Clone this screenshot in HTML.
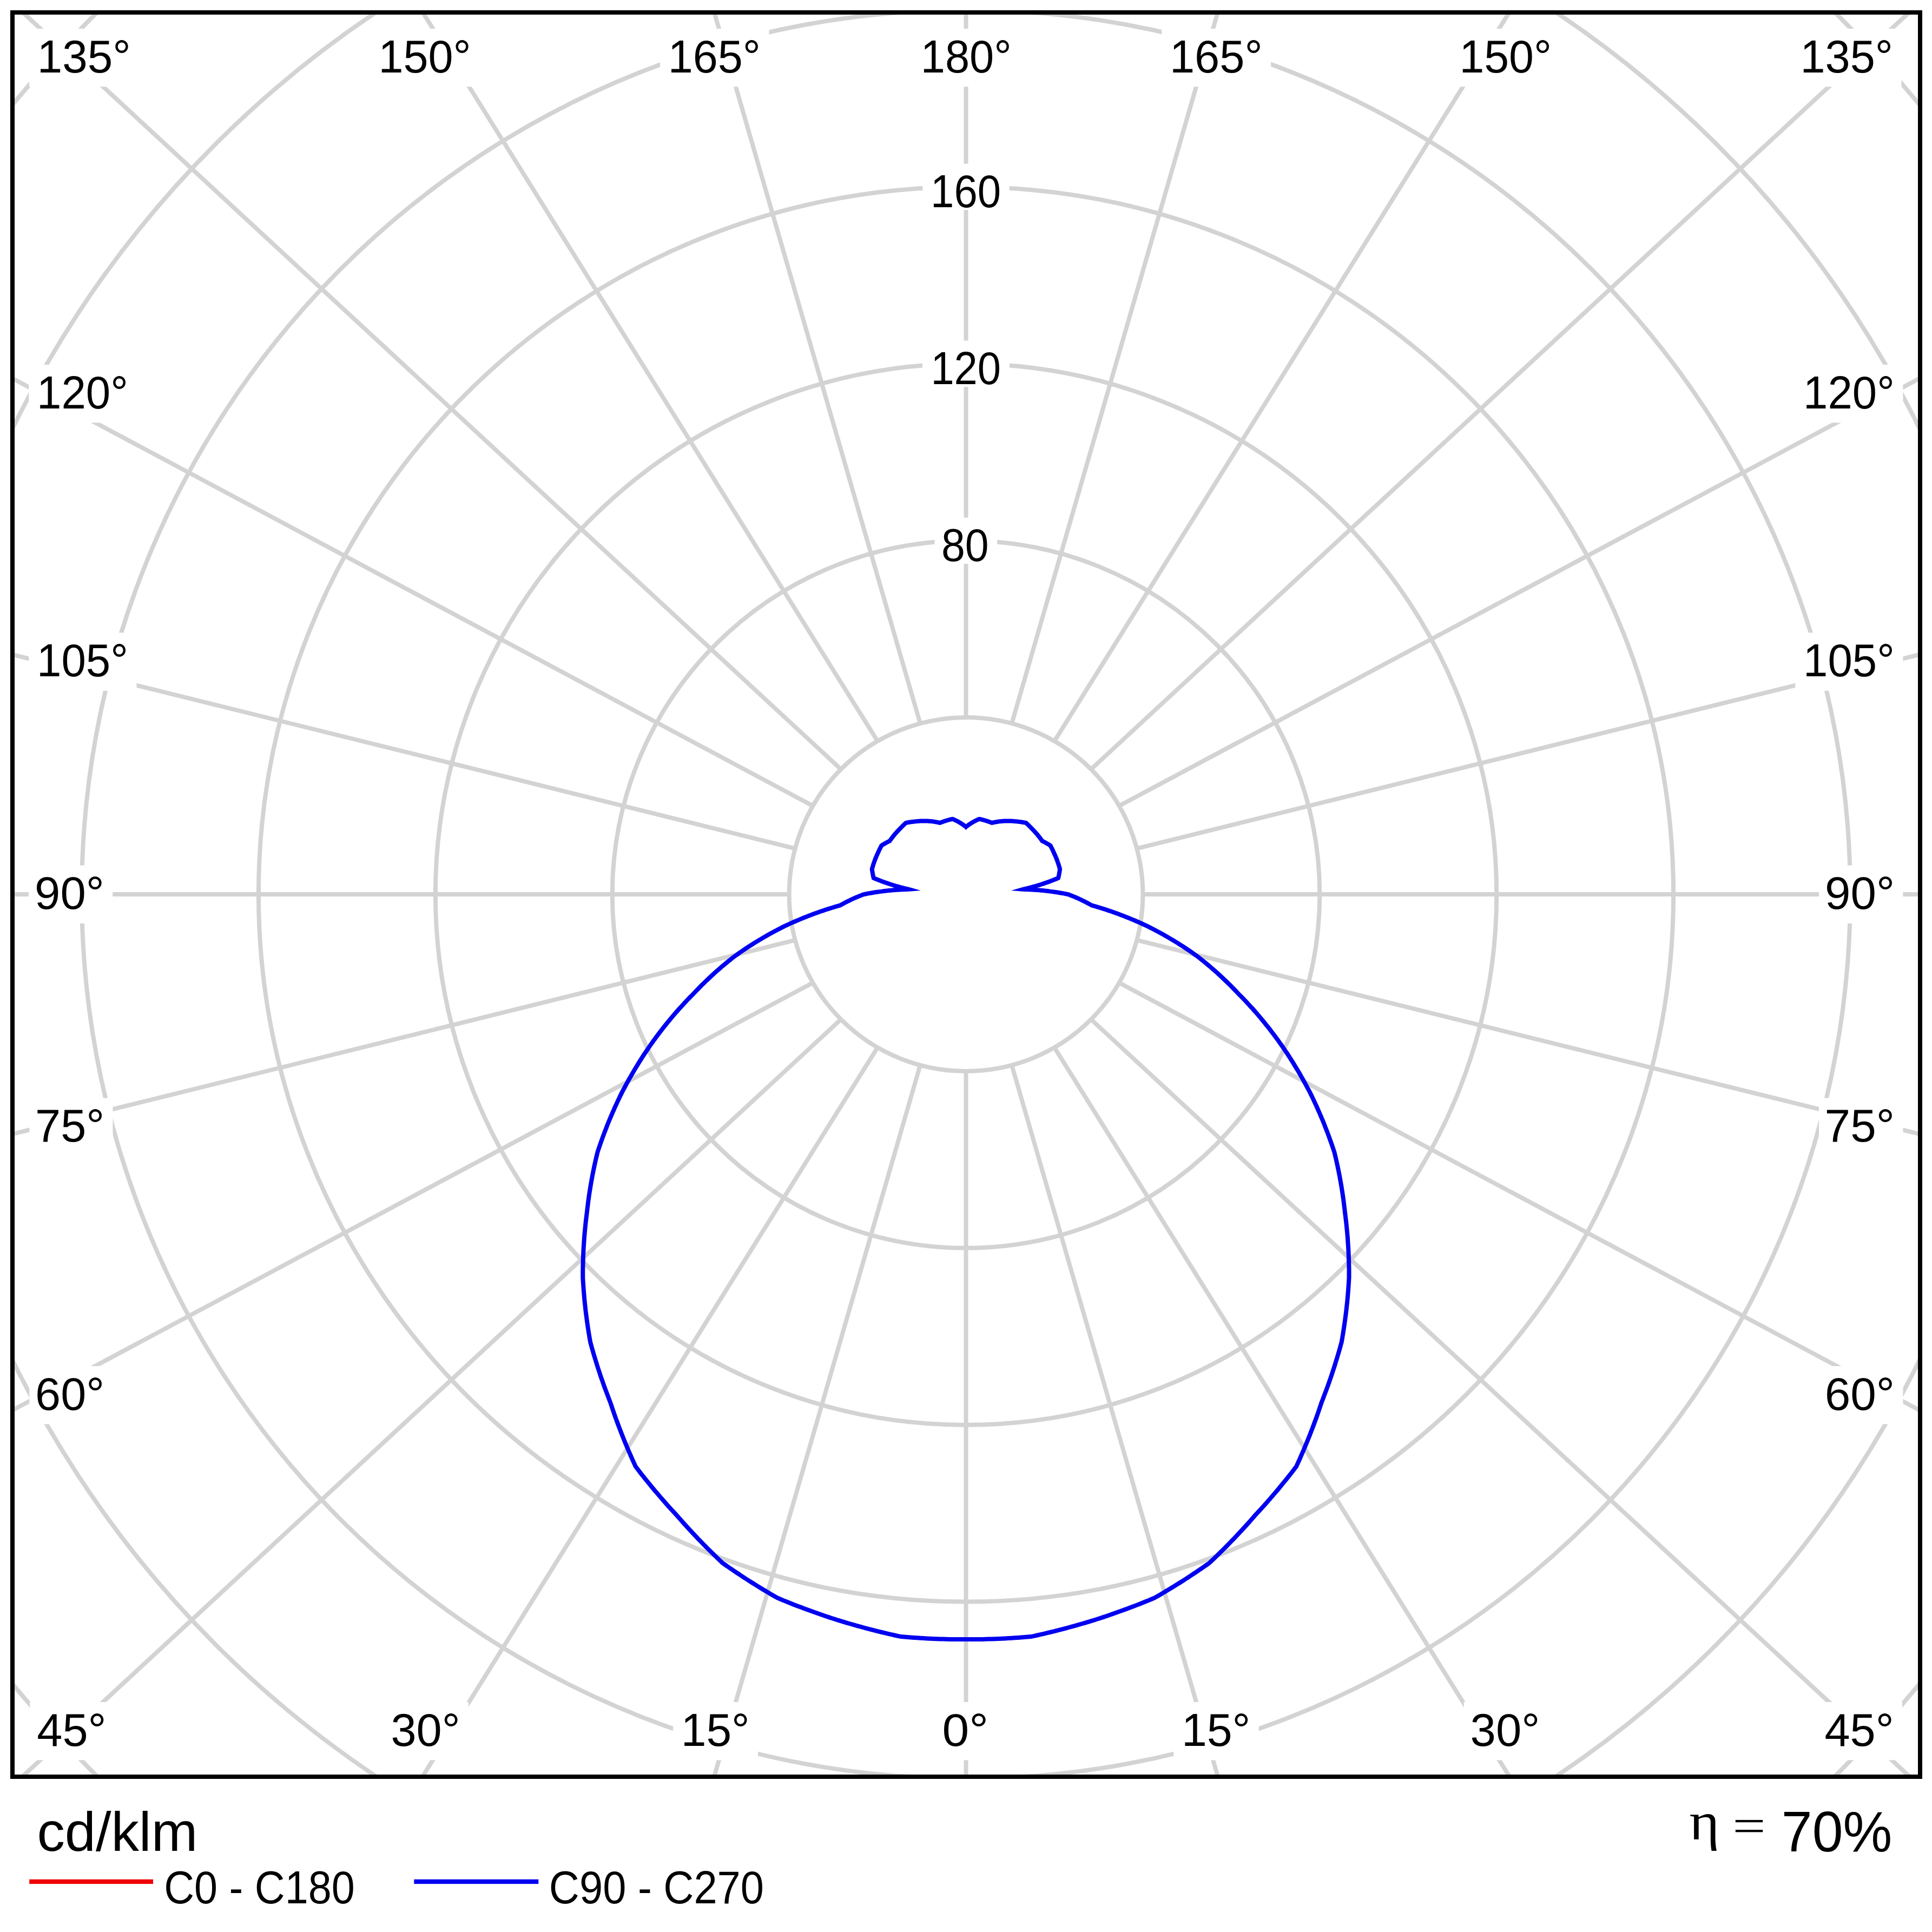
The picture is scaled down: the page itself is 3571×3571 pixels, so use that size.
<!DOCTYPE html><html><head><meta charset="utf-8"><style>html,body{margin:0;padding:0;background:#fff;overflow:hidden}</style></head><body><svg width="3571" height="3571" viewBox="0 0 3571 3571" style="display:block">
<rect x="0" y="0" width="3571" height="3571" fill="#fff"/>
<defs><clipPath id="fr"><rect x="27" y="27" width="3518" height="3254"/></clipPath></defs>
<g clip-path="url(#fr)">
<line x1="1785.50" y1="1979.90" x2="1785.50" y2="5979.90" stroke="#d3d3d3" stroke-width="8"/>
<line x1="1870.11" y1="1968.76" x2="2989.24" y2="5832.46" stroke="#d3d3d3" stroke-width="8"/>
<line x1="1948.95" y1="1936.10" x2="4110.95" y2="5400.21" stroke="#d3d3d3" stroke-width="8"/>
<line x1="2016.65" y1="1884.15" x2="5074.18" y2="4712.58" stroke="#d3d3d3" stroke-width="8"/>
<line x1="2068.60" y1="1816.45" x2="5813.30" y2="3816.45" stroke="#d3d3d3" stroke-width="8"/>
<line x1="2101.26" y1="1737.61" x2="6277.92" y2="2772.88" stroke="#d3d3d3" stroke-width="8"/>
<line x1="2112.40" y1="1653.00" x2="6436.40" y2="1653.00" stroke="#d3d3d3" stroke-width="8"/>
<line x1="2101.26" y1="1568.39" x2="6277.92" y2="533.12" stroke="#d3d3d3" stroke-width="8"/>
<line x1="2068.60" y1="1489.55" x2="5813.30" y2="-510.45" stroke="#d3d3d3" stroke-width="8"/>
<line x1="2016.65" y1="1421.85" x2="5074.18" y2="-1406.58" stroke="#d3d3d3" stroke-width="8"/>
<line x1="1948.95" y1="1369.90" x2="4110.95" y2="-2094.21" stroke="#d3d3d3" stroke-width="8"/>
<line x1="1870.11" y1="1337.24" x2="2989.24" y2="-2526.46" stroke="#d3d3d3" stroke-width="8"/>
<line x1="1785.50" y1="1326.10" x2="1785.50" y2="-2673.90" stroke="#d3d3d3" stroke-width="8"/>
<line x1="1700.89" y1="1337.24" x2="581.76" y2="-2526.46" stroke="#d3d3d3" stroke-width="8"/>
<line x1="1622.05" y1="1369.90" x2="-539.95" y2="-2094.21" stroke="#d3d3d3" stroke-width="8"/>
<line x1="1554.35" y1="1421.85" x2="-1503.18" y2="-1406.58" stroke="#d3d3d3" stroke-width="8"/>
<line x1="1502.40" y1="1489.55" x2="-2242.30" y2="-510.45" stroke="#d3d3d3" stroke-width="8"/>
<line x1="1469.74" y1="1568.39" x2="-2706.92" y2="533.12" stroke="#d3d3d3" stroke-width="8"/>
<line x1="1458.60" y1="1653.00" x2="-2865.40" y2="1653.00" stroke="#d3d3d3" stroke-width="8"/>
<line x1="1469.74" y1="1737.61" x2="-2706.92" y2="2772.88" stroke="#d3d3d3" stroke-width="8"/>
<line x1="1502.40" y1="1816.45" x2="-2242.30" y2="3816.45" stroke="#d3d3d3" stroke-width="8"/>
<line x1="1554.35" y1="1884.15" x2="-1503.18" y2="4712.58" stroke="#d3d3d3" stroke-width="8"/>
<line x1="1622.05" y1="1936.10" x2="-539.95" y2="5400.21" stroke="#d3d3d3" stroke-width="8"/>
<line x1="1700.89" y1="1968.76" x2="581.76" y2="5832.46" stroke="#d3d3d3" stroke-width="8"/>
<circle cx="1785.5" cy="1653.0" r="326.90" fill="#fff" stroke="#d3d3d3" stroke-width="8"/>
<circle cx="1785.5" cy="1653.0" r="653.80" fill="none" stroke="#d3d3d3" stroke-width="8"/>
<circle cx="1785.5" cy="1653.0" r="980.70" fill="none" stroke="#d3d3d3" stroke-width="8"/>
<circle cx="1785.5" cy="1653.0" r="1307.60" fill="none" stroke="#d3d3d3" stroke-width="8"/>
<circle cx="1785.5" cy="1653.0" r="1634.50" fill="none" stroke="#d3d3d3" stroke-width="8"/>
<circle cx="1785.5" cy="1653.0" r="1961.40" fill="none" stroke="#d3d3d3" stroke-width="8"/>
<circle cx="1785.5" cy="1653.0" r="2288.30" fill="none" stroke="#d3d3d3" stroke-width="8"/>
<circle cx="1785.5" cy="1653.0" r="2615.20" fill="none" stroke="#d3d3d3" stroke-width="8"/>
<polygon fill="none" stroke="#0000f0" stroke-width="8" stroke-linejoin="miter" stroke-miterlimit="4" points="1785.4,3030.1 1779.4,3030.1 1773.4,3030.1 1767.4,3030.1 1761.4,3030.0 1755.4,3029.9 1749.3,3029.7 1743.3,3029.6 1737.3,3029.4 1731.3,3029.2 1725.3,3028.9 1719.3,3028.7 1713.3,3028.4 1707.3,3028.0 1701.3,3027.7 1695.3,3027.3 1689.3,3026.9 1683.3,3026.5 1677.3,3026.0 1671.3,3025.6 1665.4,3025.1 1659.4,3023.8 1653.5,3022.5 1647.6,3021.1 1641.7,3019.8 1635.9,3018.4 1630.0,3017.0 1624.1,3015.6 1618.3,3014.1 1612.4,3012.6 1606.6,3011.1 1600.8,3009.6 1595.0,3008.0 1589.2,3006.4 1583.4,3004.8 1577.6,3003.2 1571.8,3001.5 1566.1,2999.9 1560.3,2998.1 1554.6,2996.4 1548.8,2994.7 1543.1,2992.8 1537.4,2991.0 1531.7,2989.1 1526.1,2987.2 1520.4,2985.3 1514.7,2983.3 1509.1,2981.3 1503.5,2979.3 1497.9,2977.3 1492.3,2975.3 1486.7,2973.2 1481.1,2971.1 1475.5,2969.0 1470.0,2966.9 1464.4,2964.7 1458.9,2962.5 1453.4,2960.3 1447.9,2958.1 1442.4,2955.8 1436.9,2953.5 1431.7,2950.5 1426.4,2947.5 1421.2,2944.4 1416.0,2941.3 1410.8,2938.2 1405.6,2935.0 1400.5,2931.9 1395.4,2928.7 1390.3,2925.5 1385.2,2922.3 1380.1,2919.0 1375.1,2915.8 1370.1,2912.5 1365.1,2909.2 1360.1,2905.9 1355.2,2902.5 1350.2,2899.2 1345.3,2895.8 1340.4,2892.4 1335.5,2889.0 1331.0,2884.7 1326.5,2880.4 1322.0,2876.0 1317.6,2871.7 1313.2,2867.4 1308.8,2863.0 1304.4,2858.6 1300.1,2854.2 1295.8,2849.8 1291.5,2845.4 1287.3,2840.9 1283.1,2836.5 1278.9,2832.0 1274.7,2827.5 1270.6,2823.0 1266.5,2818.5 1262.4,2814.0 1258.4,2809.4 1254.4,2804.9 1250.4,2800.3 1246.4,2795.9 1242.3,2791.6 1238.3,2787.2 1234.4,2782.8 1230.4,2778.3 1226.5,2773.9 1222.7,2769.5 1218.8,2765.0 1215.0,2760.5 1211.2,2756.1 1207.4,2751.6 1203.7,2747.1 1200.0,2742.5 1196.3,2738.0 1192.6,2733.5 1189.0,2728.9 1185.4,2724.4 1181.8,2719.8 1178.3,2715.2 1174.8,2710.6 1172.1,2704.7 1169.4,2698.8 1166.8,2692.8 1164.2,2686.9 1161.6,2681.0 1159.1,2675.0 1156.6,2669.1 1154.2,2663.2 1151.8,2657.2 1149.4,2651.3 1147.1,2645.3 1144.8,2639.4 1142.6,2633.5 1140.4,2627.5 1138.2,2621.6 1136.1,2615.6 1134.0,2609.7 1132.0,2603.7 1130.0,2597.8 1128.0,2591.8 1125.8,2586.3 1123.7,2580.7 1121.6,2575.1 1119.5,2569.6 1117.4,2564.0 1115.4,2558.4 1113.5,2552.8 1111.5,2547.3 1109.6,2541.7 1107.8,2536.1 1105.9,2530.5 1104.1,2525.0 1102.4,2519.4 1100.7,2513.8 1099.0,2508.3 1097.3,2502.7 1095.7,2497.1 1094.1,2491.6 1092.6,2486.0 1091.1,2480.5 1090.0,2474.4 1089.0,2468.4 1088.0,2462.3 1087.1,2456.3 1086.2,2450.3 1085.3,2444.3 1084.5,2438.3 1083.7,2432.3 1082.9,2426.3 1082.2,2420.4 1081.6,2414.4 1080.9,2408.4 1080.3,2402.5 1079.8,2396.6 1079.3,2390.6 1078.8,2384.7 1078.4,2378.8 1078.0,2372.9 1077.6,2367.0 1077.3,2361.1 1077.3,2355.0 1077.3,2348.8 1077.4,2342.7 1077.5,2336.6 1077.7,2330.5 1077.9,2324.4 1078.1,2318.3 1078.4,2312.3 1078.7,2306.2 1079.1,2300.2 1079.5,2294.2 1079.9,2288.2 1080.4,2282.2 1080.9,2276.3 1081.5,2270.3 1082.1,2264.4 1082.7,2258.5 1083.4,2252.6 1084.1,2246.7 1084.9,2240.8 1085.5,2235.1 1086.2,2229.4 1086.9,2223.7 1087.6,2218.0 1088.4,2212.4 1089.2,2206.8 1090.1,2201.1 1091.0,2195.5 1091.9,2190.0 1092.9,2184.4 1093.9,2178.8 1094.9,2173.3 1096.0,2167.8 1097.1,2162.3 1098.2,2156.9 1099.4,2151.4 1100.6,2146.0 1101.8,2140.6 1103.1,2135.2 1104.4,2129.8 1106.3,2124.1 1108.2,2118.4 1110.2,2112.7 1112.2,2107.1 1114.2,2101.5 1116.3,2095.9 1118.4,2090.3 1120.6,2084.8 1122.7,2079.2 1124.9,2073.8 1127.2,2068.3 1129.5,2062.9 1131.8,2057.5 1134.2,2052.1 1136.5,2046.7 1139.0,2041.4 1141.4,2036.1 1143.9,2030.9 1146.4,2025.6 1149.0,2020.4 1151.7,2015.2 1154.5,2010.0 1157.2,2004.8 1160.1,1999.6 1162.9,1994.5 1165.8,1989.4 1168.7,1984.4 1171.7,1979.3 1174.7,1974.3 1177.7,1969.4 1180.7,1964.4 1183.8,1959.5 1186.9,1954.7 1190.0,1949.8 1193.2,1945.0 1196.4,1940.3 1199.6,1935.5 1202.9,1930.8 1206.2,1926.2 1209.5,1921.5 1212.9,1916.9 1216.3,1912.3 1219.8,1907.8 1223.2,1903.3 1226.7,1898.8 1230.3,1894.4 1233.8,1890.0 1237.4,1885.6 1241.0,1881.3 1244.6,1877.0 1248.3,1872.7 1252.0,1868.5 1255.7,1864.3 1259.5,1860.2 1263.2,1856.1 1267.0,1852.0 1270.8,1847.9 1274.7,1843.9 1278.6,1840.0 1282.5,1836.1 1286.0,1832.3 1289.6,1828.6 1293.2,1824.9 1296.8,1821.2 1300.5,1817.6 1304.2,1814.0 1307.9,1810.5 1311.6,1807.0 1315.3,1803.5 1319.1,1800.0 1322.9,1796.6 1326.7,1793.3 1330.5,1789.9 1334.3,1786.6 1338.2,1783.4 1342.1,1780.1 1346.0,1776.9 1349.9,1773.8 1353.8,1770.7 1357.8,1767.6 1362.2,1764.4 1366.6,1761.3 1371.1,1758.2 1375.6,1755.2 1380.1,1752.2 1384.6,1749.2 1389.1,1746.3 1393.6,1743.4 1398.2,1740.6 1402.8,1737.8 1407.4,1735.1 1412.0,1732.4 1416.6,1729.7 1421.3,1727.1 1425.9,1724.5 1430.6,1722.0 1435.3,1719.5 1440.0,1717.0 1444.7,1714.6 1449.5,1712.2 1454.5,1709.9 1459.6,1707.5 1464.7,1705.2 1469.8,1703.0 1474.9,1700.8 1480.1,1698.6 1485.2,1696.5 1490.4,1694.5 1495.5,1692.4 1500.7,1690.5 1505.9,1688.6 1511.1,1686.7 1516.3,1684.8 1521.6,1683.1 1526.8,1681.3 1532.0,1679.6 1537.3,1678.0 1542.6,1676.4 1547.8,1674.8 1553.1,1673.3 1555.3,1672.1 1557.4,1670.9 1559.5,1669.8 1561.7,1668.6 1563.8,1667.5 1566.0,1666.4 1568.1,1665.3 1570.3,1664.3 1572.5,1663.2 1574.7,1662.2 1576.9,1661.2 1579.0,1660.2 1581.2,1659.2 1583.4,1658.3 1585.6,1657.4 1587.8,1656.4 1590.0,1655.6 1592.3,1654.7 1594.5,1653.8 1596.7,1653.0 1600.8,1652.2 1604.9,1651.4 1609.1,1650.7 1613.2,1650.0 1617.4,1649.3 1621.5,1648.7 1625.6,1648.1 1629.8,1647.6 1633.9,1647.0 1638.1,1646.6 1642.2,1646.1 1646.4,1645.7 1650.5,1645.3 1654.7,1645.0 1658.8,1644.7 1663.0,1644.4 1667.1,1644.2 1671.3,1644.0 1675.4,1643.9 1679.6,1643.7 1676.3,1643.0 1673.0,1642.2 1669.7,1641.3 1666.4,1640.5 1663.1,1639.6 1659.9,1638.7 1656.6,1637.8 1653.3,1636.8 1650.1,1635.8 1646.8,1634.8 1643.6,1633.7 1640.4,1632.6 1637.1,1631.5 1633.9,1630.4 1630.7,1629.2 1627.5,1628.0 1624.3,1626.8 1621.1,1625.5 1617.9,1624.2 1614.8,1622.9 1614.6,1622.1 1614.4,1621.3 1614.2,1620.5 1614.0,1619.7 1613.9,1618.9 1613.7,1618.1 1613.5,1617.3 1613.4,1616.4 1613.2,1615.6 1613.1,1614.8 1612.9,1614.0 1612.8,1613.1 1612.6,1612.3 1612.5,1611.5 1612.3,1610.7 1612.2,1609.8 1612.1,1609.0 1612.0,1608.1 1611.8,1607.3 1611.7,1606.5 1611.9,1605.7 1612.1,1605.0 1612.4,1604.2 1612.6,1603.4 1612.8,1602.7 1613.0,1601.9 1613.2,1601.2 1613.5,1600.4 1613.7,1599.7 1613.9,1598.9 1614.2,1598.2 1614.4,1597.4 1614.6,1596.7 1614.9,1596.0 1615.1,1595.2 1615.4,1594.5 1615.7,1593.7 1615.9,1593.0 1616.2,1592.2 1616.4,1591.5 1616.7,1590.8 1617.0,1590.0 1617.3,1589.3 1617.5,1588.6 1617.8,1587.8 1618.1,1587.1 1618.4,1586.4 1618.7,1585.6 1619.0,1584.9 1619.3,1584.2 1619.6,1583.5 1619.9,1582.7 1620.2,1582.0 1620.5,1581.3 1620.8,1580.6 1621.1,1579.9 1621.5,1579.2 1621.8,1578.4 1622.1,1577.7 1622.5,1577.0 1622.8,1576.3 1623.1,1575.6 1623.4,1574.9 1623.7,1574.1 1624.1,1573.4 1624.4,1572.7 1624.7,1572.0 1625.1,1571.3 1625.4,1570.6 1625.7,1569.9 1626.1,1569.2 1626.4,1568.5 1626.8,1567.8 1627.1,1567.1 1627.5,1566.4 1627.9,1565.7 1628.2,1565.0 1628.6,1564.3 1629.0,1563.6 1629.3,1562.9 1630.1,1562.4 1630.8,1562.0 1631.6,1561.5 1632.3,1561.0 1633.1,1560.6 1633.8,1560.1 1634.6,1559.7 1635.4,1559.2 1636.1,1558.8 1636.9,1558.4 1637.6,1557.9 1638.4,1557.5 1639.1,1557.1 1639.9,1556.7 1640.7,1556.3 1641.4,1555.9 1642.2,1555.5 1643.0,1555.1 1643.7,1554.7 1644.5,1554.3 1644.9,1553.7 1645.3,1553.1 1645.8,1552.5 1646.2,1551.9 1646.7,1551.3 1647.1,1550.7 1647.6,1550.1 1648.0,1549.5 1648.5,1548.9 1648.9,1548.3 1649.4,1547.7 1649.8,1547.1 1650.3,1546.5 1650.8,1545.9 1651.2,1545.3 1651.7,1544.7 1652.2,1544.2 1652.7,1543.6 1653.1,1543.0 1653.6,1542.4 1654.1,1541.8 1654.6,1541.3 1655.1,1540.7 1655.6,1540.1 1656.1,1539.6 1656.6,1539.0 1657.1,1538.4 1657.6,1537.9 1658.1,1537.3 1658.6,1536.8 1659.1,1536.2 1659.6,1535.7 1660.1,1535.1 1660.6,1534.6 1661.1,1534.0 1661.7,1533.5 1662.2,1533.0 1662.7,1532.4 1663.2,1531.9 1663.8,1531.4 1664.3,1530.8 1664.8,1530.3 1665.3,1529.7 1665.8,1529.2 1666.4,1528.7 1666.9,1528.1 1667.4,1527.6 1668.0,1527.1 1668.5,1526.5 1669.0,1526.0 1669.6,1525.5 1670.1,1525.0 1670.7,1524.5 1671.2,1523.9 1671.8,1523.4 1672.3,1522.9 1672.9,1522.4 1673.4,1521.9 1674.0,1521.4 1674.6,1520.9 1675.4,1520.7 1676.2,1520.6 1677.1,1520.4 1677.9,1520.3 1678.7,1520.1 1679.6,1520.0 1680.4,1519.8 1681.2,1519.7 1682.1,1519.6 1682.9,1519.4 1683.7,1519.3 1684.6,1519.2 1685.4,1519.1 1686.2,1519.0 1687.1,1518.9 1687.9,1518.8 1688.7,1518.7 1689.5,1518.6 1690.4,1518.5 1691.2,1518.4 1692.0,1518.3 1692.8,1518.3 1693.6,1518.2 1694.4,1518.1 1695.2,1518.0 1696.0,1518.0 1696.8,1517.9 1697.6,1517.8 1698.4,1517.8 1699.2,1517.7 1700.0,1517.7 1700.8,1517.6 1701.6,1517.6 1702.4,1517.6 1703.2,1517.5 1704.0,1517.5 1704.8,1517.5 1705.6,1517.5 1706.4,1517.5 1707.1,1517.5 1707.9,1517.5 1708.7,1517.5 1709.5,1517.5 1710.3,1517.5 1711.1,1517.5 1711.8,1517.5 1712.6,1517.5 1713.4,1517.6 1714.2,1517.6 1714.9,1517.6 1715.7,1517.7 1716.5,1517.7 1717.2,1517.8 1718.0,1517.8 1718.8,1517.9 1719.5,1517.9 1720.3,1518.0 1721.0,1518.0 1721.8,1518.1 1722.5,1518.2 1723.3,1518.3 1724.1,1518.4 1724.8,1518.5 1725.6,1518.6 1726.3,1518.7 1727.1,1518.8 1727.8,1519.0 1728.6,1519.1 1729.3,1519.2 1730.0,1519.4 1730.8,1519.5 1731.5,1519.6 1732.3,1519.8 1733.0,1519.9 1733.7,1520.1 1734.4,1520.2 1735.2,1520.4 1735.9,1520.6 1736.6,1520.7 1737.3,1520.9 1737.9,1520.7 1738.5,1520.5 1739.0,1520.2 1739.6,1520.0 1740.2,1519.8 1740.8,1519.6 1741.3,1519.4 1741.9,1519.2 1742.5,1518.9 1743.1,1518.7 1743.6,1518.5 1744.2,1518.3 1744.8,1518.1 1745.4,1517.9 1746.0,1517.8 1746.6,1517.6 1747.2,1517.4 1747.7,1517.2 1748.3,1517.0 1748.9,1516.8 1749.5,1516.7 1750.1,1516.5 1750.7,1516.3 1751.3,1516.1 1751.9,1516.0 1752.5,1515.8 1753.1,1515.6 1753.7,1515.5 1754.2,1515.3 1754.8,1515.2 1755.4,1515.0 1756.0,1514.9 1756.6,1514.7 1757.2,1514.6 1757.8,1514.4 1758.4,1514.3 1759.0,1514.2 1759.6,1514.0 1760.2,1513.9 1760.8,1513.8 1761.5,1514.1 1762.2,1514.4 1762.9,1514.7 1763.5,1515.0 1764.2,1515.3 1764.9,1515.6 1765.5,1515.9 1766.2,1516.2 1766.8,1516.6 1767.5,1516.9 1768.1,1517.2 1768.8,1517.5 1769.4,1517.9 1770.0,1518.2 1770.7,1518.5 1771.3,1518.9 1771.9,1519.2 1772.6,1519.6 1773.2,1519.9 1773.8,1520.3 1774.4,1520.7 1775.0,1521.1 1775.6,1521.4 1776.2,1521.8 1776.8,1522.2 1777.4,1522.6 1778.0,1523.0 1778.6,1523.4 1779.2,1523.8 1779.8,1524.2 1780.4,1524.6 1780.9,1525.0 1781.5,1525.4 1782.1,1525.8 1782.6,1526.3 1783.2,1526.7 1783.8,1527.1 1784.3,1527.5 1784.9,1527.9 1785.4,1528.4 1785.9,1527.9 1786.5,1527.5 1787.0,1527.1 1787.6,1526.7 1788.2,1526.3 1788.7,1525.8 1789.3,1525.4 1789.9,1525.0 1790.4,1524.6 1791.0,1524.2 1791.6,1523.8 1792.2,1523.4 1792.8,1523.0 1793.4,1522.6 1794.0,1522.2 1794.6,1521.8 1795.2,1521.4 1795.8,1521.1 1796.4,1520.7 1797.0,1520.3 1797.6,1519.9 1798.2,1519.6 1798.9,1519.2 1799.5,1518.9 1800.1,1518.5 1800.8,1518.2 1801.4,1517.9 1802.0,1517.5 1802.7,1517.2 1803.3,1516.9 1804.0,1516.6 1804.6,1516.2 1805.3,1515.9 1805.9,1515.6 1806.6,1515.3 1807.3,1515.0 1807.9,1514.7 1808.6,1514.4 1809.3,1514.1 1810.0,1513.8 1810.6,1513.9 1811.2,1514.0 1811.8,1514.2 1812.4,1514.3 1813.0,1514.4 1813.6,1514.6 1814.2,1514.7 1814.8,1514.9 1815.4,1515.0 1816.0,1515.2 1816.6,1515.3 1817.1,1515.5 1817.7,1515.6 1818.3,1515.8 1818.9,1516.0 1819.5,1516.1 1820.1,1516.3 1820.7,1516.5 1821.3,1516.7 1821.9,1516.8 1822.5,1517.0 1823.1,1517.2 1823.6,1517.4 1824.2,1517.6 1824.8,1517.8 1825.4,1517.9 1826.0,1518.1 1826.6,1518.3 1827.2,1518.5 1827.7,1518.7 1828.3,1518.9 1828.9,1519.2 1829.5,1519.4 1830.0,1519.6 1830.6,1519.8 1831.2,1520.0 1831.8,1520.2 1832.3,1520.5 1832.9,1520.7 1833.5,1520.9 1834.2,1520.7 1834.9,1520.6 1835.6,1520.4 1836.4,1520.2 1837.1,1520.1 1837.8,1519.9 1838.5,1519.8 1839.3,1519.6 1840.0,1519.5 1840.8,1519.4 1841.5,1519.2 1842.2,1519.1 1843.0,1519.0 1843.7,1518.8 1844.5,1518.7 1845.2,1518.6 1846.0,1518.5 1846.7,1518.4 1847.5,1518.3 1848.3,1518.2 1849.0,1518.1 1849.8,1518.0 1850.5,1518.0 1851.3,1517.9 1852.0,1517.9 1852.8,1517.8 1853.6,1517.8 1854.3,1517.7 1855.1,1517.7 1855.9,1517.6 1856.6,1517.6 1857.4,1517.6 1858.2,1517.5 1859.0,1517.5 1859.7,1517.5 1860.5,1517.5 1861.3,1517.5 1862.1,1517.5 1862.9,1517.5 1863.7,1517.5 1864.4,1517.5 1865.2,1517.5 1866.0,1517.5 1866.8,1517.5 1867.6,1517.5 1868.4,1517.6 1869.2,1517.6 1870.0,1517.6 1870.8,1517.7 1871.6,1517.7 1872.4,1517.8 1873.2,1517.8 1874.0,1517.9 1874.8,1518.0 1875.6,1518.0 1876.4,1518.1 1877.2,1518.2 1878.0,1518.3 1878.8,1518.3 1879.6,1518.4 1880.4,1518.5 1881.3,1518.6 1882.1,1518.7 1882.9,1518.8 1883.7,1518.9 1884.6,1519.0 1885.4,1519.1 1886.2,1519.2 1887.1,1519.3 1887.9,1519.4 1888.7,1519.6 1889.6,1519.7 1890.4,1519.8 1891.2,1520.0 1892.1,1520.1 1892.9,1520.3 1893.7,1520.4 1894.6,1520.6 1895.4,1520.7 1896.2,1520.9 1896.8,1521.4 1897.4,1521.9 1897.9,1522.4 1898.5,1522.9 1899.0,1523.4 1899.6,1523.9 1900.1,1524.5 1900.7,1525.0 1901.2,1525.5 1901.8,1526.0 1902.3,1526.5 1902.8,1527.1 1903.4,1527.6 1903.9,1528.1 1904.4,1528.7 1905.0,1529.2 1905.5,1529.7 1906.0,1530.3 1906.5,1530.8 1907.0,1531.4 1907.6,1531.9 1908.1,1532.4 1908.6,1533.0 1909.1,1533.5 1909.7,1534.0 1910.2,1534.6 1910.7,1535.1 1911.2,1535.7 1911.7,1536.2 1912.2,1536.8 1912.7,1537.3 1913.2,1537.9 1913.7,1538.4 1914.2,1539.0 1914.7,1539.6 1915.2,1540.1 1915.7,1540.7 1916.2,1541.3 1916.7,1541.8 1917.2,1542.4 1917.7,1543.0 1918.1,1543.6 1918.6,1544.2 1919.1,1544.7 1919.6,1545.3 1920.0,1545.9 1920.5,1546.5 1921.0,1547.1 1921.4,1547.7 1921.9,1548.3 1922.3,1548.9 1922.8,1549.5 1923.2,1550.1 1923.7,1550.7 1924.1,1551.3 1924.6,1551.9 1925.0,1552.5 1925.5,1553.1 1925.9,1553.7 1926.3,1554.3 1927.1,1554.7 1927.8,1555.1 1928.6,1555.5 1929.4,1555.9 1930.1,1556.3 1930.9,1556.7 1931.7,1557.1 1932.4,1557.5 1933.2,1557.9 1933.9,1558.4 1934.7,1558.8 1935.4,1559.2 1936.2,1559.7 1937.0,1560.1 1937.7,1560.6 1938.5,1561.0 1939.2,1561.5 1940.0,1562.0 1940.7,1562.4 1941.5,1562.9 1941.8,1563.6 1942.2,1564.3 1942.6,1565.0 1942.9,1565.7 1943.3,1566.4 1943.7,1567.1 1944.0,1567.8 1944.4,1568.5 1944.7,1569.2 1945.1,1569.9 1945.4,1570.6 1945.7,1571.3 1946.1,1572.0 1946.4,1572.7 1946.7,1573.4 1947.1,1574.1 1947.4,1574.9 1947.7,1575.6 1948.0,1576.3 1948.3,1577.0 1948.7,1577.7 1949.0,1578.4 1949.3,1579.2 1949.7,1579.9 1950.0,1580.6 1950.3,1581.3 1950.6,1582.0 1950.9,1582.7 1951.2,1583.5 1951.5,1584.2 1951.8,1584.9 1952.1,1585.6 1952.4,1586.4 1952.7,1587.1 1953.0,1587.8 1953.3,1588.6 1953.5,1589.3 1953.8,1590.0 1954.1,1590.8 1954.4,1591.5 1954.6,1592.2 1954.9,1593.0 1955.1,1593.7 1955.4,1594.5 1955.7,1595.2 1955.9,1596.0 1956.2,1596.7 1956.4,1597.4 1956.6,1598.2 1956.9,1598.9 1957.1,1599.7 1957.3,1600.4 1957.6,1601.2 1957.8,1601.9 1958.0,1602.7 1958.2,1603.4 1958.4,1604.2 1958.7,1605.0 1958.9,1605.7 1959.1,1606.5 1959.0,1607.3 1958.8,1608.1 1958.7,1609.0 1958.6,1609.8 1958.5,1610.7 1958.3,1611.5 1958.2,1612.3 1958.0,1613.1 1957.9,1614.0 1957.7,1614.8 1957.6,1615.6 1957.4,1616.4 1957.3,1617.3 1957.1,1618.1 1956.9,1618.9 1956.8,1619.7 1956.6,1620.5 1956.4,1621.3 1956.2,1622.1 1956.0,1622.9 1952.9,1624.2 1949.7,1625.5 1946.5,1626.8 1943.3,1628.0 1940.1,1629.2 1936.9,1630.4 1933.7,1631.5 1930.4,1632.6 1927.2,1633.7 1924.0,1634.8 1920.7,1635.8 1917.5,1636.8 1914.2,1637.8 1910.9,1638.7 1907.7,1639.6 1904.4,1640.5 1901.1,1641.3 1897.8,1642.2 1894.5,1643.0 1891.2,1643.7 1895.4,1643.9 1899.5,1644.0 1903.7,1644.2 1907.8,1644.4 1912.0,1644.7 1916.1,1645.0 1920.3,1645.3 1924.4,1645.7 1928.6,1646.1 1932.7,1646.6 1936.9,1647.0 1941.0,1647.6 1945.2,1648.1 1949.3,1648.7 1953.4,1649.3 1957.6,1650.0 1961.7,1650.7 1965.9,1651.4 1970.0,1652.2 1974.1,1653.0 1976.3,1653.8 1978.5,1654.7 1980.8,1655.6 1983.0,1656.4 1985.2,1657.4 1987.4,1658.3 1989.6,1659.2 1991.8,1660.2 1993.9,1661.2 1996.1,1662.2 1998.3,1663.2 2000.5,1664.3 2002.7,1665.3 2004.8,1666.4 2007.0,1667.5 2009.1,1668.6 2011.3,1669.8 2013.4,1670.9 2015.5,1672.1 2017.7,1673.3 2023.0,1674.8 2028.2,1676.4 2033.5,1678.0 2038.8,1679.6 2044.0,1681.3 2049.2,1683.1 2054.5,1684.8 2059.7,1686.7 2064.9,1688.6 2070.1,1690.5 2075.3,1692.4 2080.4,1694.5 2085.6,1696.5 2090.7,1698.6 2095.9,1700.8 2101.0,1703.0 2106.1,1705.2 2111.2,1707.5 2116.3,1709.9 2121.3,1712.2 2126.1,1714.6 2130.8,1717.0 2135.5,1719.5 2140.2,1722.0 2144.9,1724.5 2149.5,1727.1 2154.2,1729.7 2158.8,1732.4 2163.4,1735.1 2168.0,1737.8 2172.6,1740.6 2177.2,1743.4 2181.7,1746.3 2186.2,1749.2 2190.7,1752.2 2195.2,1755.2 2199.7,1758.2 2204.2,1761.3 2208.6,1764.4 2213.0,1767.6 2217.0,1770.7 2220.9,1773.8 2224.8,1776.9 2228.7,1780.1 2232.6,1783.4 2236.5,1786.6 2240.3,1789.9 2244.1,1793.3 2247.9,1796.6 2251.7,1800.0 2255.5,1803.5 2259.2,1807.0 2262.9,1810.5 2266.6,1814.0 2270.3,1817.6 2274.0,1821.2 2277.6,1824.9 2281.2,1828.6 2284.8,1832.3 2288.3,1836.1 2292.2,1840.0 2296.1,1843.9 2300.0,1847.9 2303.8,1852.0 2307.6,1856.1 2311.3,1860.2 2315.1,1864.3 2318.8,1868.5 2322.5,1872.7 2326.2,1877.0 2329.8,1881.3 2333.4,1885.6 2337.0,1890.0 2340.5,1894.4 2344.1,1898.8 2347.6,1903.3 2351.0,1907.8 2354.5,1912.3 2357.9,1916.9 2361.3,1921.5 2364.6,1926.2 2367.9,1930.8 2371.2,1935.5 2374.4,1940.3 2377.6,1945.0 2380.8,1949.8 2383.9,1954.7 2387.0,1959.5 2390.1,1964.4 2393.1,1969.4 2396.1,1974.3 2399.1,1979.3 2402.1,1984.4 2405.0,1989.4 2407.9,1994.5 2410.7,1999.6 2413.6,2004.8 2416.3,2010.0 2419.1,2015.2 2421.8,2020.4 2424.4,2025.6 2426.9,2030.9 2429.4,2036.1 2431.8,2041.4 2434.3,2046.7 2436.6,2052.1 2439.0,2057.5 2441.3,2062.9 2443.6,2068.3 2445.9,2073.8 2448.1,2079.2 2450.2,2084.8 2452.4,2090.3 2454.5,2095.9 2456.6,2101.5 2458.6,2107.1 2460.6,2112.7 2462.6,2118.4 2464.5,2124.1 2466.4,2129.8 2467.7,2135.2 2469.0,2140.6 2470.2,2146.0 2471.4,2151.4 2472.6,2156.9 2473.7,2162.3 2474.8,2167.8 2475.9,2173.3 2476.9,2178.8 2477.9,2184.4 2478.9,2190.0 2479.8,2195.5 2480.7,2201.1 2481.6,2206.8 2482.4,2212.4 2483.2,2218.0 2483.9,2223.7 2484.6,2229.4 2485.3,2235.1 2485.9,2240.8 2486.7,2246.7 2487.4,2252.6 2488.1,2258.5 2488.7,2264.4 2489.3,2270.3 2489.9,2276.3 2490.4,2282.2 2490.9,2288.2 2491.3,2294.2 2491.7,2300.2 2492.1,2306.2 2492.4,2312.3 2492.7,2318.3 2492.9,2324.4 2493.1,2330.5 2493.3,2336.6 2493.4,2342.7 2493.5,2348.8 2493.5,2355.0 2493.5,2361.1 2493.2,2367.0 2492.8,2372.9 2492.4,2378.8 2492.0,2384.7 2491.5,2390.6 2491.0,2396.6 2490.5,2402.5 2489.9,2408.4 2489.2,2414.4 2488.6,2420.4 2487.9,2426.3 2487.1,2432.3 2486.3,2438.3 2485.5,2444.3 2484.6,2450.3 2483.7,2456.3 2482.8,2462.3 2481.8,2468.4 2480.8,2474.4 2479.7,2480.5 2478.2,2486.0 2476.7,2491.6 2475.1,2497.1 2473.5,2502.7 2471.8,2508.3 2470.1,2513.8 2468.4,2519.4 2466.7,2525.0 2464.9,2530.5 2463.0,2536.1 2461.2,2541.7 2459.3,2547.3 2457.3,2552.8 2455.4,2558.4 2453.4,2564.0 2451.3,2569.6 2449.2,2575.1 2447.1,2580.7 2445.0,2586.3 2442.8,2591.8 2440.8,2597.8 2438.8,2603.7 2436.8,2609.7 2434.7,2615.6 2432.6,2621.6 2430.4,2627.5 2428.2,2633.5 2426.0,2639.4 2423.7,2645.3 2421.4,2651.3 2419.0,2657.2 2416.6,2663.2 2414.2,2669.1 2411.7,2675.0 2409.2,2681.0 2406.6,2686.9 2404.0,2692.8 2401.4,2698.8 2398.7,2704.7 2396.0,2710.6 2392.5,2715.2 2389.0,2719.8 2385.4,2724.4 2381.8,2728.9 2378.2,2733.5 2374.5,2738.0 2370.8,2742.5 2367.1,2747.1 2363.4,2751.6 2359.6,2756.1 2355.8,2760.5 2352.0,2765.0 2348.1,2769.5 2344.3,2773.9 2340.4,2778.3 2336.4,2782.8 2332.5,2787.2 2328.5,2791.6 2324.4,2795.9 2320.4,2800.3 2316.4,2804.9 2312.4,2809.4 2308.4,2814.0 2304.3,2818.5 2300.2,2823.0 2296.1,2827.5 2291.9,2832.0 2287.7,2836.5 2283.5,2840.9 2279.3,2845.4 2275.0,2849.8 2270.7,2854.2 2266.4,2858.6 2262.0,2863.0 2257.6,2867.4 2253.2,2871.7 2248.8,2876.0 2244.3,2880.4 2239.8,2884.7 2235.3,2889.0 2230.4,2892.4 2225.5,2895.8 2220.6,2899.2 2215.6,2902.5 2210.7,2905.9 2205.7,2909.2 2200.7,2912.5 2195.7,2915.8 2190.7,2919.0 2185.6,2922.3 2180.5,2925.5 2175.4,2928.7 2170.3,2931.9 2165.2,2935.0 2160.0,2938.2 2154.8,2941.3 2149.6,2944.4 2144.4,2947.5 2139.1,2950.5 2133.9,2953.5 2128.4,2955.8 2122.9,2958.1 2117.4,2960.3 2111.9,2962.5 2106.4,2964.7 2100.8,2966.9 2095.3,2969.0 2089.7,2971.1 2084.1,2973.2 2078.5,2975.3 2072.9,2977.3 2067.3,2979.3 2061.7,2981.3 2056.1,2983.3 2050.4,2985.3 2044.7,2987.2 2039.1,2989.1 2033.4,2991.0 2027.7,2992.8 2022.0,2994.7 2016.2,2996.4 2010.5,2998.1 2004.7,2999.9 1999.0,3001.5 1993.2,3003.2 1987.4,3004.8 1981.6,3006.4 1975.8,3008.0 1970.0,3009.6 1964.2,3011.1 1958.4,3012.6 1952.5,3014.1 1946.7,3015.6 1940.8,3017.0 1934.9,3018.4 1929.1,3019.8 1923.2,3021.1 1917.3,3022.5 1911.4,3023.8 1905.4,3025.1 1899.5,3025.6 1893.5,3026.0 1887.5,3026.5 1881.5,3026.9 1875.5,3027.3 1869.5,3027.7 1863.5,3028.0 1857.5,3028.4 1851.5,3028.7 1845.5,3028.9 1839.5,3029.2 1833.5,3029.4 1827.5,3029.6 1821.5,3029.7 1815.4,3029.9 1809.4,3030.0 1803.4,3030.1 1797.4,3030.1 1791.4,3030.1 1785.4,3030.1"/>
<polygon fill="#0000f0" points="1679.56,1643.74 1679.68,1647.74 1701.90,1645.98 1680.47,1639.84"/>
<polygon fill="#0000f0" points="1891.24,1643.74 1891.12,1647.74 1868.90,1645.98 1890.33,1639.84"/>
</g>
<g fill="#000">
<rect x="54.0" y="53.0" width="203.1" height="107.3" fill="#fff"/>
<text transform="translate(68.63,133.67) scale(0.8364,0.8474)" font-family="Liberation Sans" font-size="100">135°</text>
<rect x="684.7" y="53.0" width="201.3" height="107.3" fill="#fff"/>
<text transform="translate(699.40,133.67) scale(0.8271,0.8474)" font-family="Liberation Sans" font-size="100">150°</text>
<rect x="1220.0" y="53.0" width="201.5" height="107.3" fill="#fff"/>
<text transform="translate(1234.69,133.67) scale(0.8281,0.8474)" font-family="Liberation Sans" font-size="100">165°</text>
<rect x="1687.0" y="53.0" width="198.3" height="107.3" fill="#fff"/>
<text transform="translate(1701.82,133.67) scale(0.8115,0.8474)" font-family="Liberation Sans" font-size="100">180°</text>
<rect x="2147.3" y="53.0" width="201.8" height="107.3" fill="#fff"/>
<text transform="translate(2161.98,133.67) scale(0.8297,0.8474)" font-family="Liberation Sans" font-size="100">165°</text>
<rect x="2682.7" y="53.0" width="200.8" height="107.3" fill="#fff"/>
<text transform="translate(2697.42,133.67) scale(0.8245,0.8474)" font-family="Liberation Sans" font-size="100">150°</text>
<rect x="3312.8" y="53.0" width="201.7" height="107.3" fill="#fff"/>
<text transform="translate(3327.48,133.67) scale(0.8291,0.8474)" font-family="Liberation Sans" font-size="100">135°</text>
<rect x="53.3" y="674.0" width="199.2" height="107.3" fill="#fff"/>
<text transform="translate(68.08,754.67) scale(0.8162,0.8474)" font-family="Liberation Sans" font-size="100">120°</text>
<rect x="53.3" y="1169.5" width="199.2" height="107.3" fill="#fff"/>
<text transform="translate(68.08,1250.17) scale(0.8162,0.8474)" font-family="Liberation Sans" font-size="100">105°</text>
<rect x="53.1" y="1599.5" width="155.1" height="107.3" fill="#fff"/>
<text transform="translate(64.11,1680.17) scale(0.8511,0.8474)" font-family="Liberation Sans" font-size="100">90°</text>
<rect x="54.4" y="2029.5" width="154.1" height="107.3" fill="#fff"/>
<text transform="translate(65.06,2110.17) scale(0.8466,0.8474)" font-family="Liberation Sans" font-size="100">75°</text>
<rect x="54.4" y="2525.0" width="154.1" height="107.3" fill="#fff"/>
<text transform="translate(65.10,2605.67) scale(0.8463,0.8474)" font-family="Liberation Sans" font-size="100">60°</text>
<rect x="3318.3" y="674.0" width="199.1" height="107.3" fill="#fff"/>
<text transform="translate(3333.09,754.67) scale(0.8157,0.8474)" font-family="Liberation Sans" font-size="100">120°</text>
<rect x="3318.3" y="1169.5" width="199.1" height="107.3" fill="#fff"/>
<text transform="translate(3333.09,1250.17) scale(0.8157,0.8474)" font-family="Liberation Sans" font-size="100">105°</text>
<rect x="3362.0" y="1599.5" width="155.4" height="107.3" fill="#fff"/>
<text transform="translate(3373.00,1680.17) scale(0.8532,0.8474)" font-family="Liberation Sans" font-size="100">90°</text>
<rect x="3362.0" y="2029.5" width="155.4" height="107.3" fill="#fff"/>
<text transform="translate(3372.61,2110.17) scale(0.8559,0.8474)" font-family="Liberation Sans" font-size="100">75°</text>
<rect x="3362.0" y="2525.0" width="155.4" height="107.3" fill="#fff"/>
<text transform="translate(3372.66,2605.67) scale(0.8556,0.8474)" font-family="Liberation Sans" font-size="100">60°</text>
<rect x="55.3" y="3146.0" width="156.6" height="107.3" fill="#fff"/>
<text transform="translate(68.36,3226.67) scale(0.8473,0.8474)" font-family="Liberation Sans" font-size="100">45°</text>
<rect x="710.7" y="3146.0" width="155.3" height="107.3" fill="#fff"/>
<text transform="translate(722.47,3226.67) scale(0.8472,0.8474)" font-family="Liberation Sans" font-size="100">30°</text>
<rect x="1244.1" y="3146.0" width="157.0" height="107.3" fill="#fff"/>
<text transform="translate(1258.71,3226.67) scale(0.8394,0.8474)" font-family="Liberation Sans" font-size="100">15°</text>
<rect x="1730.0" y="3146.0" width="112.1" height="107.3" fill="#fff"/>
<text transform="translate(1741.51,3226.67) scale(0.8939,0.8474)" font-family="Liberation Sans" font-size="100">0°</text>
<rect x="2169.3" y="3146.0" width="157.4" height="107.3" fill="#fff"/>
<text transform="translate(2183.88,3226.67) scale(0.8423,0.8474)" font-family="Liberation Sans" font-size="100">15°</text>
<rect x="2705.8" y="3146.0" width="155.9" height="107.3" fill="#fff"/>
<text transform="translate(2717.56,3226.67) scale(0.8514,0.8474)" font-family="Liberation Sans" font-size="100">30°</text>
<rect x="3359.4" y="3146.0" width="156.6" height="107.3" fill="#fff"/>
<text transform="translate(3372.46,3226.67) scale(0.8473,0.8474)" font-family="Liberation Sans" font-size="100">45°</text>
<rect x="1727.5" y="956.8" width="115.6" height="85.4" fill="#fff"/>
<text transform="translate(1740.08,1036.77) scale(0.7875,0.8474)" font-family="Liberation Sans" font-size="100">80</text>
<rect x="1705.0" y="629.5" width="161.0" height="85.7" fill="#fff"/>
<text transform="translate(1720.38,709.87) scale(0.7771,0.8474)" font-family="Liberation Sans" font-size="100">120</text>
<rect x="1705.3" y="302.6" width="160.4" height="85.4" fill="#fff"/>
<text transform="translate(1720.07,382.97) scale(0.7790,0.8474)" font-family="Liberation Sans" font-size="100">160</text>
<text transform="translate(68.44,3421.40) scale(1.0274,1.0281)" font-family="Liberation Sans" font-size="100">cd/klm</text>
<text transform="translate(303.27,3518.17) scale(0.7735,0.8474)" font-family="Liberation Sans" font-size="100">C0 - C180</text>
<text transform="translate(1014.86,3518.17) scale(0.7767,0.8474)" font-family="Liberation Sans" font-size="100">C90 - C270</text>
<rect x="54.2" y="3473.7" width="228.8" height="8.4" fill="#f00000"/>
<rect x="765.3" y="3473.7" width="230" height="8.4" fill="#0000f0"/>
<text transform="translate(3292.86,3421.68) scale(1.0211,1.0480)" font-family="Liberation Sans" font-size="100">70%</text>
<rect x="3207.8" y="3363.9" width="50.4" height="4.3" fill="#000"/>
<rect x="3207.8" y="3382.1" width="50.4" height="4.3" fill="#000"/>
<text transform="translate(3122.53,3400.42) scale(1.0658,0.9853)" font-family="Liberation Serif" font-size="100">η</text>
</g>
<rect x="23" y="23" width="3526" height="3261" fill="none" stroke="#000" stroke-width="8"/>
</svg></body></html>
